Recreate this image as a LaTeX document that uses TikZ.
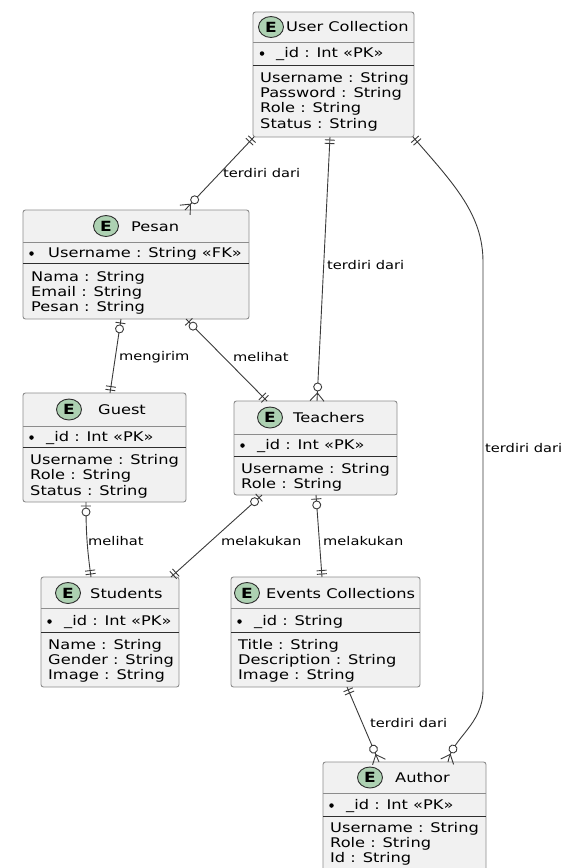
\documentclass[tikz,border=0pt]{standalone}
\usepackage{fontspec}
\setmainfont{DejaVu Sans}[FakeStretch=1.22]
\usepackage{tikz}
\usetikzlibrary{shapes.geometric}
\usetikzlibrary{decorations.markings}

\definecolor{boxfill}{HTML}{F1F1F1}
\definecolor{boxline}{HTML}{8C8C8C}
\definecolor{sepline}{HTML}{2E2E2E}
\definecolor{linkcol}{HTML}{3A3A3A}
\definecolor{badgefill}{HTML}{ADD1B2}

\begin{document}
\begin{tikzpicture}[x=1pt, y=-1pt,
	entity/.style={draw=boxline, fill=boxfill, line width=0.9pt, rounded corners=2.5pt, inner sep=0pt, outer sep=0pt, anchor=north west},
	headline/.style={draw=boxline, line width=0.9pt},
	divider/.style={draw=sepline, line width=0.9pt},
	badge/.style={ellipse, draw=sepline, fill=badgefill, line width=0.9pt, minimum width=25, minimum height=21, inner sep=0pt, font=\fontsize{14}{14}\selectfont\bfseries},
	title/.style={anchor=base west, inner sep=0pt, font=\fontsize{13.3}{15}\selectfont},
	field/.style={anchor=base west, inner sep=0pt, font=\fontsize{13.3}{15}\selectfont},
	pkdot/.style={circle, fill=black, minimum size=4.5, inner sep=0pt},
	rel/.style={anchor=west, inner sep=0pt, font=\fontsize{12}{14}\selectfont},
	conn/.style={draw=linkcol, line width=0.9pt},
	erline/.style={draw=linkcol, line width=0.9pt},
	startone/.style={postaction={decorate, decoration={markings,
		mark=at position 3pt with {\draw[erline] (0pt,-5pt) -- (0pt,5pt);},
		mark=at position 6.5pt with {\draw[erline] (0pt,-5pt) -- (0pt,5pt);}}}},
	startzeroone/.style={postaction={decorate, decoration={markings,
		mark=at position 4pt with {\draw[erline] (0pt,-5pt) -- (0pt,5pt);},
		mark=at position 10pt with {\draw[erline, fill=white] (0pt,0pt) circle (4pt);}}}},
	endone/.style={postaction={decorate, decoration={markings,
		mark=at position -6.5pt with {\draw[erline] (0pt,-5pt) -- (0pt,5pt);},
		mark=at position -3pt with {\draw[erline] (0pt,-5pt) -- (0pt,5pt);}}}},
	endzeromany/.style={postaction={decorate, decoration={markings,
		mark=at position -14pt with {\draw[erline, fill=white] (0pt,0pt) circle (4pt);},
		mark=at position -8pt with {\draw[erline] (8pt,7pt) -- (0pt,0pt) -- (8pt,-7pt);}}}}]

	\useasboundingbox (0,0) rectangle (571,868);

	% User Collection
	\node[entity, minimum width=161, minimum height=125] (user) at (253,12) {};
	\draw[headline] ([yshift=-30]user.north west) -- ([yshift=-30]user.north east);
	\draw[divider] ([yshift=-53]user.north west) -- ([yshift=-53]user.north east);
	\node[badge] (user-e) at (271,27) {E};
	\node[title] (user-name) at (286,31.5) {User Collection};
	\node[pkdot] (user-dot) at (262,53.5) {};
	\node[field] (user-pk) at (276,57.5) {\_id : Int «PK»};
	\foreach \f [count=\i] in {Username : String, Password : String, Role : String, Status : String}
		\node[field] (user-f\i) at (260,{82+15.4*(\i-1)}) {\f};

	% Pesan
	\node[entity, minimum width=226, minimum height=109] (pesan) at (23,210) {};
	\draw[headline] ([yshift=-32]pesan.north west) -- ([yshift=-32]pesan.north east);
	\draw[divider] ([yshift=-53]pesan.north west) -- ([yshift=-53]pesan.north east);
	\node[badge] (pesan-e) at (106,226) {E};
	\node[title] (pesan-name) at (131,231) {Pesan};
	\node[pkdot] (pesan-dot) at (31.5,253.5) {};
	\node[field] (pesan-pk) at (48,257.5) {Username : String «FK»};
	\foreach \f [count=\i] in {Nama : String, Email : String, Pesan : String}
		\node[field] (pesan-f\i) at (31,{281+15.4*(\i-1)}) {\f};

	% Guest
	\node[entity, minimum width=163, minimum height=109] (guest) at (23,393) {};
	\draw[headline] ([yshift=-33]guest.north west) -- ([yshift=-33]guest.north east);
	\draw[divider] ([yshift=-54]guest.north west) -- ([yshift=-54]guest.north east);
	\node[badge] (guest-e) at (69,409.5) {E};
	\node[title] (guest-name) at (98,414.5) {Guest};
	\node[pkdot] (guest-dot) at (31.5,437.5) {};
	\node[field] (guest-pk) at (46,441.5) {\_id : Int «PK»};
	\foreach \f [count=\i] in {Username : String, Role : String, Status : String}
		\node[field] (guest-f\i) at (30,{464.5+15.4*(\i-1)}) {\f};

	% Teachers
	\node[entity, minimum width=163, minimum height=94] (teachers) at (234,401) {};
	\draw[headline] ([yshift=-33]teachers.north west) -- ([yshift=-33]teachers.north east);
	\draw[divider] ([yshift=-55]teachers.north west) -- ([yshift=-55]teachers.north east);
	\node[badge] (teachers-e) at (270,417.5) {E};
	\node[title] (teachers-name) at (293,422.5) {Teachers};
	\node[pkdot] (teachers-dot) at (242.5,445.5) {};
	\node[field] (teachers-pk) at (257,449.5) {\_id : Int «PK»};
	\foreach \f [count=\i] in {Username : String, Role : String}
		\node[field] (teachers-f\i) at (241,{473.5+15.4*(\i-1)}) {\f};

	% Students
	\node[entity, minimum width=138, minimum height=110] (students) at (41,577) {};
	\draw[headline] ([yshift=-31]students.north west) -- ([yshift=-31]students.north east);
	\draw[divider] ([yshift=-55]students.north west) -- ([yshift=-55]students.north east);
	\node[badge] (students-e) at (68,593) {E};
	\node[title] (students-name) at (90,598) {Students};
	\node[pkdot] (students-dot) at (49.5,621.5) {};
	\node[field] (students-pk) at (64,625.5) {\_id : Int «PK»};
	\foreach \f [count=\i] in {Name : String, Gender : String, Image : String}
		\node[field] (students-f\i) at (48,{649+15.4*(\i-1)}) {\f};

	% Events Collections
	\node[entity, minimum width=189, minimum height=110] (events) at (231,577) {};
	\draw[headline] ([yshift=-31]events.north west) -- ([yshift=-31]events.north east);
	\draw[divider] ([yshift=-55]events.north west) -- ([yshift=-55]events.north east);
	\node[badge] (events-e) at (247,593) {E};
	\node[title] (events-name) at (266,598) {Events Collections};
	\node[pkdot] (events-dot) at (239.5,621.5) {};
	\node[field] (events-pk) at (254,625.5) {\_id : String};
	\foreach \f [count=\i] in {Title : String, Description : String, Image : String}
		\node[field] (events-f\i) at (238,{649+15.4*(\i-1)}) {\f};

	% Author
	\node[entity, minimum width=163, minimum height=110] (author) at (323,762) {};
	\draw[headline] ([yshift=-31]author.north west) -- ([yshift=-31]author.north east);
	\draw[divider] ([yshift=-54]author.north west) -- ([yshift=-54]author.north east);
	\node[badge] (author-e) at (370,777.5) {E};
	\node[title] (author-name) at (395,782.5) {Author};
	\node[pkdot] (author-dot) at (331.5,805.5) {};
	\node[field] (author-pk) at (346,809.5) {\_id : Int «PK»};
	\foreach \f [count=\i] in {Username : String, Role : String, Id : String}
		\node[field] (author-f\i) at (330,{832+15.4*(\i-1)}) {\f};

	% relations
	\draw[conn, startone, endzeromany] ([xshift=1]user.south west) -- ([xshift=162]pesan.north west);
	\node[rel] (r-user-pesan) at (223,173) {terdiri dari};

	\draw[conn, startone, endzeromany] ([xshift=77]user.south west) -- ([xshift=83]teachers.north west);
	\node[rel] (r-user-teachers) at (327,265) {terdiri dari};

	\draw[conn, startone, endzeromany] ([xshift=-1]user.south east) .. controls (455,185) and (483,215) .. (483,262)
		-- (483,690) .. controls (483,725) and (452,738) .. ([xshift=125]author.north west);
	\node[rel] (r-user-author) at (485,448) {terdiri dari};

	\draw[conn, startzeroone, endone] ([xshift=98]pesan.south west) -- ([xshift=87]guest.north west);
	\node[rel] (r-pesan-guest) at (119,357) {mengirim};

	\draw[conn, startzeroone, endone] ([xshift=163]pesan.south west) -- ([xshift=33]teachers.north west);
	\node[rel] (r-pesan-teachers) at (233,357) {melihat};

	\draw[conn, startzeroone, endone] ([xshift=63]guest.south west) to[bend right=4] ([xshift=50]students.north west);
	\node[rel] (r-guest-students) at (88,541) {melihat};

	\draw[conn, startzeroone, endone] ([xshift=28]teachers.south west) -- ([xshift=130]students.north west);
	\node[rel] (r-teachers-students) at (221,541) {melakukan};

	\draw[conn, startzeroone, endone] ([xshift=82]teachers.south west) -- ([xshift=91]events.north west);
	\node[rel] (r-teachers-events) at (323,541) {melakukan};

	\draw[conn, startone, endzeromany] ([xshift=116]events.south west) -- ([xshift=56]author.north west);
	\node[rel] (r-events-author) at (370,723) {terdiri dari};
\end{tikzpicture}
\end{document}
